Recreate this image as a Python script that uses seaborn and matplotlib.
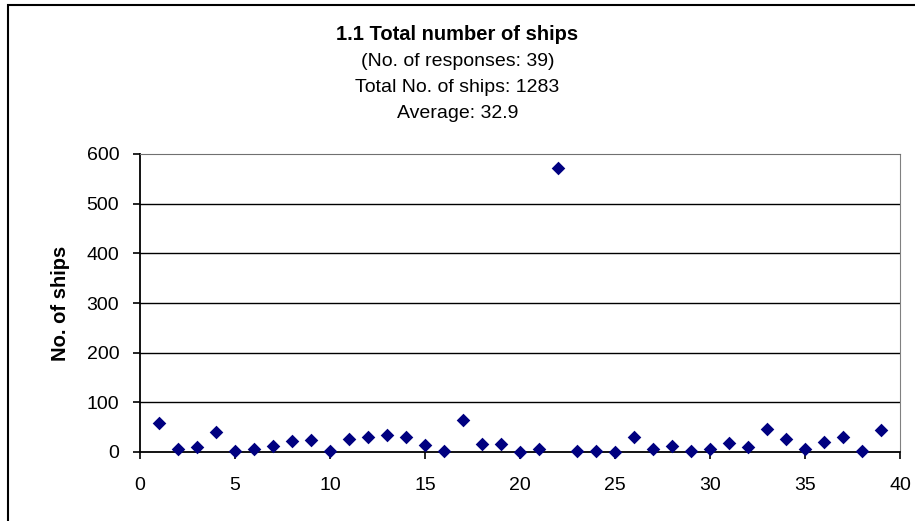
import numpy as np
import pandas as pd
import matplotlib
matplotlib.use("Agg")
import matplotlib.pyplot as plt
import seaborn as sns
from matplotlib.patches import Rectangle

# responses (x) and ships per response (y)
response_no = list(range(1, 40))
ships = [59, 6, 11, 40, 3, 6, 13, 23, 24, 2,
         27, 30, 34, 30, 14, 3, 64, 17, 17, 0,
         7, 572, 3, 3, 0, 30, 7, 13, 3, 7,
         19, 10, 47, 27, 6, 20, 31, 3, 44]
x_ticks = [0, 5, 10, 15, 20, 25, 30, 35, 40]
y_ticks = [0, 100, 200, 300, 400, 500, 600]

df = pd.DataFrame({'response': response_no, 'ships': ships})

sns.set_style('white')
plt.rcParams['font.family'] = ['Liberation Sans', 'DejaVu Sans']
plt.rcParams['text.color'] = 'black'
plt.rcParams['axes.labelcolor'] = 'black'
plt.rcParams['xtick.color'] = 'black'
plt.rcParams['ytick.color'] = 'black'

fig = plt.figure(figsize=(9.15, 5.21), dpi=100)
ax = fig.add_axes([140 / 915, 1 - 452 / 521, 760 / 915, 298 / 521])

for yv in y_ticks[1:-1]:
    ax.axhline(yv, color='black', lw=1.0, zorder=1)

sns.scatterplot(data=df, x='response', y='ships', marker='D', s=48,
                color='#000080', edgecolor='#000080', linewidth=0, ax=ax, zorder=3,
                clip_on=False)

ax.set_xlim(0, 40)
ax.set_ylim(0, 600)
ax.set_xticks(x_ticks)
ax.set_yticks(y_ticks)
ax.tick_params(axis='both', labelsize=14, direction='out', length=5, width=1.2,
               color='black', left=True, bottom=True)
ax.tick_params(axis='y', pad=10)
ax.tick_params(axis='x', pad=13)
ax.set_xlabel('')
ax.set_ylabel('No. of ships', fontsize=14.5, fontweight='bold', labelpad=12)

for side in ['left', 'bottom']:
    ax.spines[side].set_color('black')
    ax.spines[side].set_linewidth(1.3)
ax.spines['top'].set_color('#707070')
ax.spines['right'].set_color('#808080')

fig.text(0.5, 1 - 35 / 521, '1.1 Total number of ships', ha='center', va='center',
         fontsize=14.5, fontweight='bold')
fig.text(0.5, 1 - 62 / 521, '(No. of responses: 39)', ha='center', va='center', fontsize=14)
fig.text(0.5, 1 - 88 / 521, 'Total No. of ships: 1283', ha='center', va='center', fontsize=14)
fig.text(0.5, 1 - 113 / 521, 'Average: 32.9', ha='center', va='center', fontsize=14)

fig.patches.append(Rectangle((8 / 915, -0.01), 1.02, 1 - 5 / 521 + 0.01,
                             transform=fig.transFigure, fill=False,
                             edgecolor='black', linewidth=1.5))

fig.savefig('out.png', dpi=100)
